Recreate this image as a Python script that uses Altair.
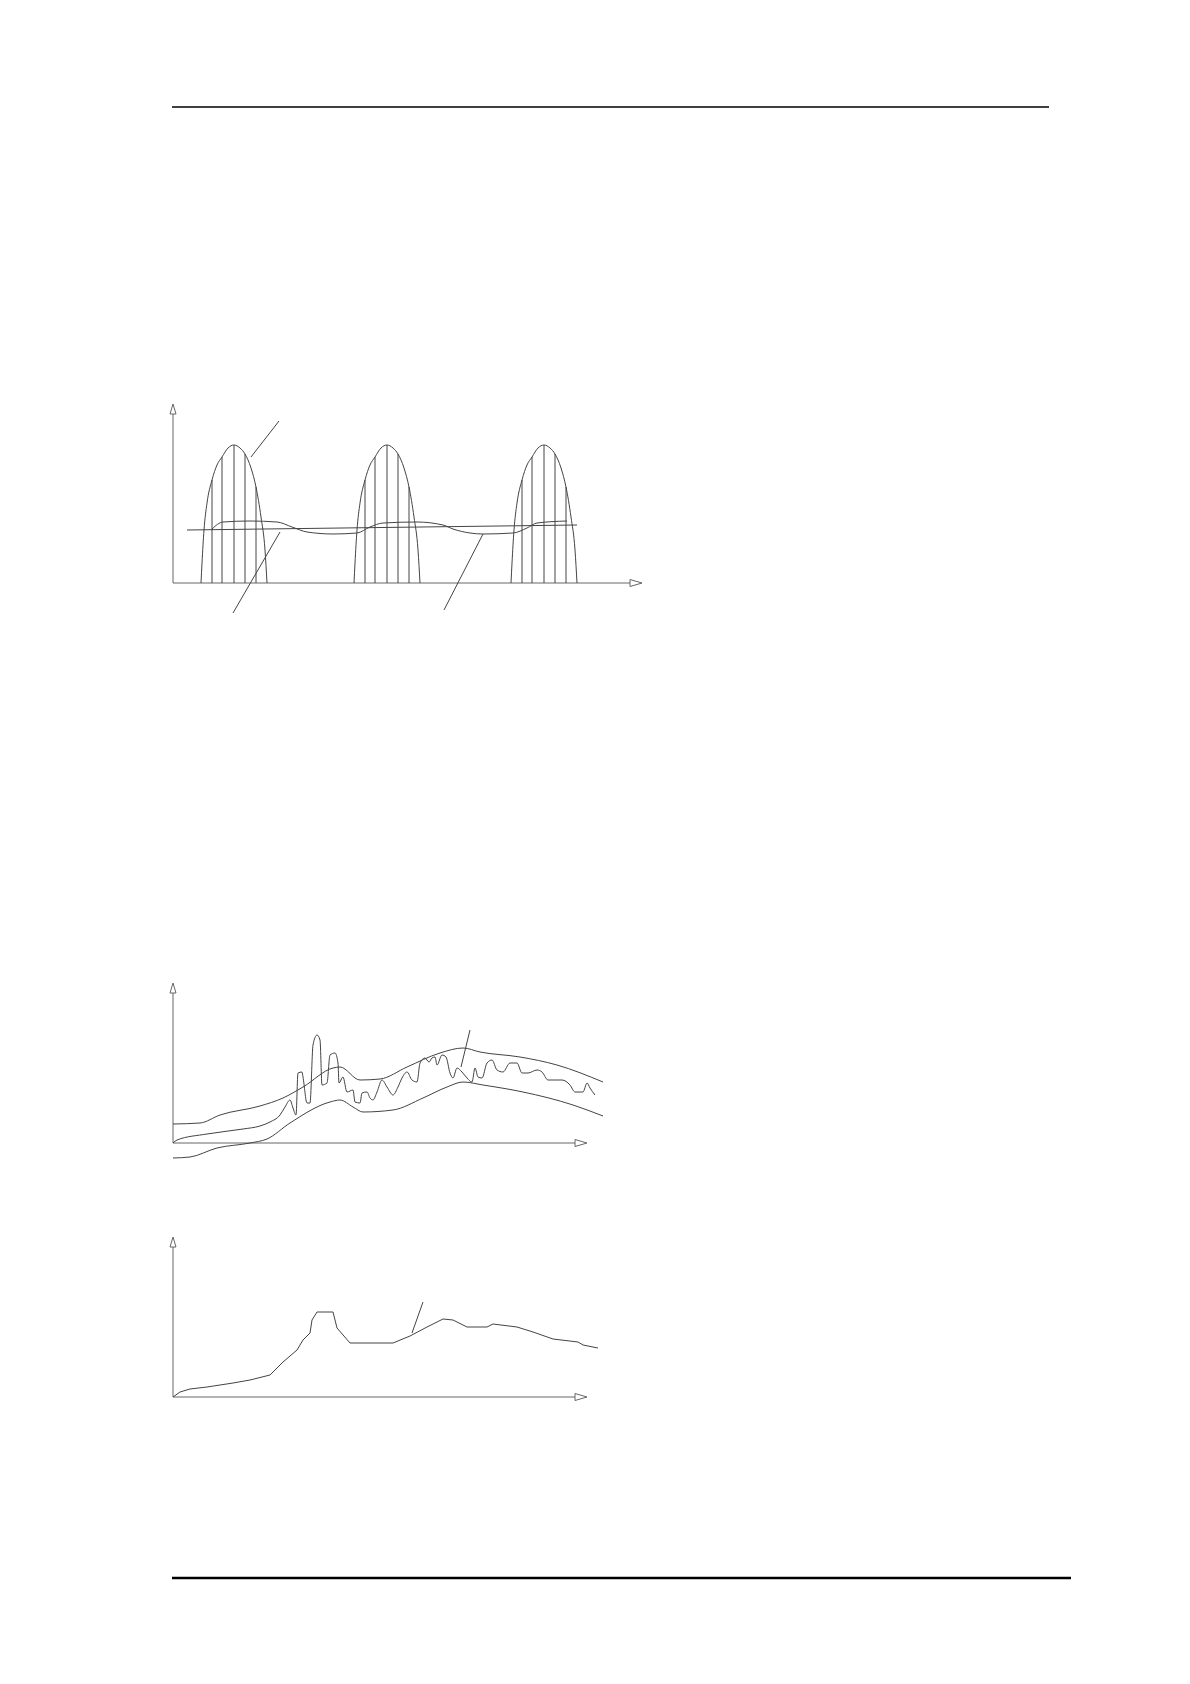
import altair as alt
import pandas as pd

# ---------------- data ----------------
# Page rules (header / footer), page pixel coordinates
header_x = [172, 1049]
header_y = [107, 107]
footer_x = [172, 1071]
footer_y = [1578, 1578]

# Panel 1: pulse bumps (local units: x right of axis origin, y above baseline)
bump_dx = [-33, -32, -30, -27, -22, -17, -12, -6, 0, 6, 11, 17, 22, 27, 31, 33]
bump_h = [0, 20, 53, 80, 103, 118, 126, 135, 138, 135, 129, 115, 96, 66, 33, 0]
bump_centers = [61, 214, 371]
hatch_dx = [-22, -12, 0, 11, 22]
hatch_h = [103, 126, 138, 129, 96]
flat_x = [14, 404]
flat_y = [53, 58]
wave_x = [39, 50, 77, 104, 119, 134, 160, 184, 197, 210, 244, 270, 280, 297, 310, 340, 354, 364, 394]
wave_y = [54, 61, 62, 61, 56, 51, 49, 50, 56, 60, 61, 58, 54, 50, 49, 50, 55, 60, 62]
p1_leaders = [([106, 78], [162, 126]), ([60, 107], [-30, 51]), ([271, 310], [-27, 49])]

# Panel 2: envelopes (local) and noisy signal (page coordinates)
upper_x = [0, 27, 47, 87, 110, 130, 160, 167, 187, 207, 234, 267, 290, 307, 347, 384, 430]
upper_y = [19, 20, 28, 37, 45, 56, 75, 76, 63, 64, 76, 90, 95, 91, 86, 78, 61]
lower_x = [0, 17, 44, 77, 94, 117, 157, 167, 180, 190, 220, 250, 274, 290, 310, 350, 400, 430]
lower_y = [-15, -14, -5, 0, 4, 20, 41, 43, 36, 31, 33, 45, 56, 61, 58, 51, 38, 27]
noisy_px = [173, 177, 207, 243, 260, 270, 280, 285, 290, 293, 296, 298, 302, 303, 307, 310,
            313, 317, 320, 322, 327, 330, 335, 338, 339, 343, 347, 353, 355, 360, 362, 367,
            370, 373, 377, 382, 387, 393, 398, 402, 407, 412, 417, 420, 425, 429, 432, 435,
            437, 442, 446, 450, 453, 457, 462, 467, 472, 475, 478, 482, 487, 492, 497, 503,
            510, 517, 522, 528, 537, 542, 548, 562, 570, 575, 583, 587, 590, 595]
noisy_py = [1143, 1140, 1134, 1129, 1126, 1122, 1115, 1107, 1100, 1108, 1115, 1073, 1072, 1077, 1103, 1103,
            1045, 1035, 1040, 1085, 1083, 1055, 1053, 1063, 1083, 1077, 1092, 1090, 1102, 1103, 1093, 1092,
            1098, 1100, 1092, 1080, 1087, 1095, 1087, 1078, 1072, 1080, 1082, 1063, 1058, 1062, 1058, 1057,
            1065, 1055, 1057, 1073, 1078, 1068, 1072, 1078, 1082, 1068, 1077, 1078, 1063, 1060, 1070, 1072,
            1063, 1063, 1073, 1073, 1070, 1072, 1080, 1080, 1085, 1092, 1092, 1083, 1088, 1095]
p2_leader = ([297, 288], [113, 76])

# Panel 3: single curve (page coordinates)
curve_px = [173, 180, 190, 207, 233, 250, 270, 283, 297, 303, 310, 312, 317, 333, 337, 350,
            363, 393, 410, 427, 443, 453, 467, 487, 493, 517, 533, 553, 578, 583, 598]
curve_py = [1397, 1392, 1389, 1387, 1383, 1380, 1375, 1362, 1350, 1340, 1333, 1320, 1312, 1312, 1328, 1343,
            1343, 1343, 1336, 1327, 1319, 1320, 1327, 1327, 1324, 1327, 1332, 1339, 1342, 1345, 1348]
p3_leader = ([250, 239], [95, 64])

# ---------------- layout ----------------
origins = {"p1": (173, 583), "p2": (173, 1143), "p3": (173, 1397)}
axis_len = {"p1": (457, 169), "p2": (402, 150), "p3": (402, 150)}

LINE = "#444444"
AXIS = "#666666"

rows = []
def add(xs, ys, ox, oy, grp, stroke, sw, kind):
    """local coordinates (y upward from panel origin)"""
    for i, (x, y) in enumerate(zip(xs, ys)):
        rows.append(dict(px=ox + x, py=oy - y, grp=grp, ord=i, stroke=stroke, sw=sw, kind=kind))

def add_page(xs, ys, grp, stroke, sw, kind):
    """page coordinates (y downward)"""
    for i, (x, y) in enumerate(zip(xs, ys)):
        rows.append(dict(px=x, py=y, grp=grp, ord=i, stroke=stroke, sw=sw, kind=kind))

add_page(header_x, header_y, "hdr", "#000000", 1.5, "lin")
add_page(footer_x, footer_y, "ftr", "#000000", 2.5, "lin")

for key, (ox, oy) in origins.items():
    xl, yl = axis_len[key]
    add([0, xl], [0, 0], ox, oy, key + "_xa", AXIS, 1, "lin")
    add([0, 0], [0, yl], ox, oy, key + "_ya", AXIS, 1, "lin")
    add([xl, xl + 12, xl, xl], [3.5, 0, -3.5, 3.5], ox, oy, key + "_xar", AXIS, 1, "lin")
    add([-3, 0, 3, -3], [yl, yl + 10, yl, yl], ox, oy, key + "_yar", AXIS, 1, "lin")

ox, oy = origins["p1"]
rules = []
for b, c in enumerate(bump_centers):
    add([c + d for d in bump_dx], bump_h, ox, oy, f"bump{b}", LINE, 1, "smooth")
    for d, h in zip(hatch_dx, hatch_h):
        rules.append(dict(px=ox + c + d, py=oy, py2=oy - h))
add(flat_x, flat_y, ox, oy, "flat", LINE, 1, "lin")
add(wave_x, wave_y, ox, oy, "wave", LINE, 1, "smooth")
for i, (lx, ly) in enumerate(p1_leaders):
    add(lx, ly, ox, oy, f"p1lead{i}", LINE, 1, "lin")

ox, oy = origins["p2"]
add(upper_x, upper_y, ox, oy, "upper", LINE, 1, "smooth")
add(lower_x, lower_y, ox, oy, "lower", LINE, 1, "smooth")
add_page(noisy_px, noisy_py, "noisy", LINE, 1, "smooth")
add(p2_leader[0], p2_leader[1], ox, oy, "p2lead", LINE, 1, "lin")

ox, oy = origins["p3"]
add_page(curve_px, curve_py, "curve", LINE, 1, "lin")
add(p3_leader[0], p3_leader[1], ox, oy, "p3lead", LINE, 1, "lin")

df = pd.DataFrame(rows)
df_rules = pd.DataFrame(rules)

X = alt.X("px:Q", scale=alt.Scale(domain=[8, 1182], nice=False, zero=False), axis=None)
Y = alt.Y("py:Q", scale=alt.Scale(domain=[8, 1676], nice=False, zero=False, reverse=True), axis=None)

def line_layer(kind, interp):
    return alt.Chart(df[df.kind == kind]).mark_line(interpolate=interp, strokeCap="butt").encode(
        x=X, y=Y,
        detail="grp:N",
        order="ord:Q",
        color=alt.Color("stroke:N", scale=None),
        strokeWidth=alt.StrokeWidth("sw:Q", scale=None),
    )

rule_layer = alt.Chart(df_rules).mark_rule(color=LINE, strokeWidth=1).encode(
    x=X, y=Y, y2="py2:Q"
)

chart = alt.layer(
    line_layer("lin", "linear"),
    line_layer("smooth", "monotone"),
    rule_layer,
).properties(
    width=1174,
    height=1668,
    autosize=alt.AutoSizeParams(type="none"),
    padding=0,
    background="white",
).configure_view(stroke=None)

chart.save("out.html", embed_options={"renderer": "svg", "actions": False})
